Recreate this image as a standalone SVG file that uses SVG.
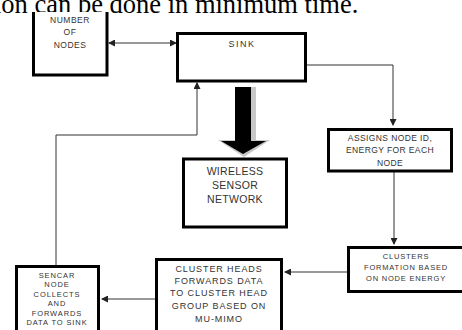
<svg xmlns="http://www.w3.org/2000/svg" width="462" height="330" viewBox="0 0 462 330">
<style>
.box{fill:#fff;stroke:#000;stroke-width:3}
.t{font-family:"Liberation Sans",Arial,sans-serif;fill:#333;text-anchor:middle}
.c{fill:none;stroke:#333;stroke-width:1}
</style>
<defs>
<marker id="ah" markerWidth="7" markerHeight="7" refX="6" refY="3.5" orient="auto-start-reverse" markerUnits="userSpaceOnUse">
<path d="M0,0 L7,3.5 L0,7 Z" fill="#222"/>
</marker>
</defs>
<rect width="462" height="330" fill="#fff"/>
<text x="-6" y="13" font-family="'Liberation Serif','Times New Roman',serif" font-size="26.5" fill="#000">ion can be done in minimum time.</text>

<g id="connectors">
<line class="c" x1="109" y1="43" x2="176" y2="43" marker-start="url(#ah)" marker-end="url(#ah)"/>
<polyline class="c" points="307,65 393,65 393,125" marker-end="url(#ah)"/>
<polyline class="c" points="394,172 394,244" marker-end="url(#ah)"/>
<polyline class="c" points="347,272 285,272" marker-end="url(#ah)"/>
<polyline class="c" points="155,299 102,299" marker-end="url(#ah)"/>
<polyline class="c" points="56,265 56,135 197,135 197,83" marker-end="url(#ah)"/>
<g id="bigarrow">
<polygon points="238,87 256,87 256,140 270,140 244,157 218,140 238,140" fill="#c8c8c8"/>
<polygon points="235,87 251,87 251,141 266,141 243,154 221,141 235,141" fill="#000"/>
</g>
</g>

<g id="number">
<path d="M33.5,12 V75 H107 V12" fill="#fff" stroke="#000" stroke-width="3"/>
<text class="t" font-size="8.5" letter-spacing="0.5" x="70" y="23">NUMBER</text>
<text class="t" font-size="8.5" letter-spacing="0.5" x="70" y="35">OF</text>
<text class="t" font-size="8.5" letter-spacing="0.5" x="70" y="48">NODES</text>
</g>

<g id="sink">
<rect class="box" x="177.5" y="33.5" width="128" height="47.5"/>
<text class="t" font-size="9" letter-spacing="1.5" x="242" y="47">SINK</text>
</g>

<g id="wsn">
<rect class="box" x="183.5" y="159" width="103" height="68"/>
<text class="t" font-size="10.5" letter-spacing="0.3" x="235" y="175">WIRELESS</text>
<text class="t" font-size="10.5" letter-spacing="0.3" x="235" y="189">SENSOR</text>
<text class="t" font-size="10.5" letter-spacing="0.3" x="235" y="203">NETWORK</text>
</g>

<g id="assigns">
<rect class="box" x="328.5" y="129.5" width="123" height="41.5"/>
<text class="t" font-size="8.5" letter-spacing="0.4" x="390" y="141">ASSIGNS NODE ID,</text>
<text class="t" font-size="8.5" letter-spacing="0.4" x="390" y="153">ENERGY FOR EACH</text>
<text class="t" font-size="8.5" letter-spacing="0.4" x="390" y="166">NODE</text>
</g>

<g id="clusters">
<rect class="box" x="348.5" y="247.5" width="130" height="44"/>
<text class="t" font-size="7.5" letter-spacing="0.8" x="406" y="259">CLUSTERS</text>
<text class="t" font-size="7.5" letter-spacing="0.8" x="406" y="270">FORMATION BASED</text>
<text class="t" font-size="7.5" letter-spacing="0.8" x="406" y="281">ON NODE ENERGY</text>
</g>

<g id="clusterheads">
<rect class="box" x="156.5" y="259.5" width="125" height="80"/>
<text class="t" font-size="9" letter-spacing="0.9" x="219" y="272">CLUSTER HEADS</text>
<text class="t" font-size="9" letter-spacing="0.9" x="219" y="284">FORWARDS DATA</text>
<text class="t" font-size="9" letter-spacing="0.9" x="219" y="296">TO CLUSTER HEAD</text>
<text class="t" font-size="9" letter-spacing="0.9" x="219" y="309">GROUP BASED ON</text>
<text class="t" font-size="9" letter-spacing="0.9" x="219" y="322">MU-MIMO</text>
</g>

<g id="sencar">
<rect class="box" x="16.5" y="266.5" width="82" height="80"/>
<text class="t" font-size="7.5" letter-spacing="0.9" x="57" y="277.5">SENCAR</text>
<text class="t" font-size="7.5" letter-spacing="0.9" x="57" y="287">NODE</text>
<text class="t" font-size="7.5" letter-spacing="0.9" x="57" y="297">COLLECTS</text>
<text class="t" font-size="7.5" letter-spacing="0.9" x="57" y="306">AND</text>
<text class="t" font-size="7.5" letter-spacing="0.9" x="57" y="316">FORWARDS</text>
<text class="t" font-size="7.5" letter-spacing="0.9" x="57" y="325">DATA TO SINK</text>
</g>
</svg>
